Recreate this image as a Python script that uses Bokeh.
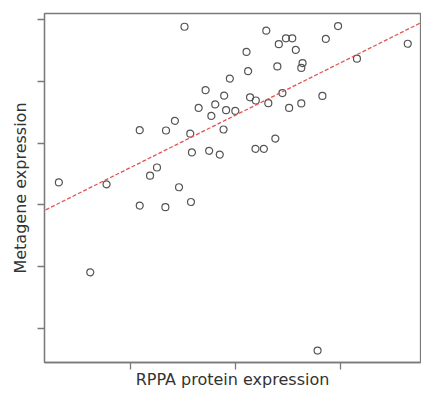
from bokeh.plotting import figure
from bokeh.models import FixedTicker, Slope, Range1d, ColumnDataSource
from bokeh.embed import file_html
from bokeh.resources import INLINE

# RPPA protein expression (x) and metagene expression (y)
rppa = [1.511, 1.712, 1.646, 1.420, 1.085, 1.335, 1.566, 1.582, 1.746, 1.249,
        1.183, 0.315, 0.769, 1.459, 1.085, 1.329, 1.573, 0.614, 2.290, 2.973,
        2.477, 2.537, 2.409, 2.857, 3.637, 2.102, 2.571, 3.153, 2.635, 2.623,
        2.395, 2.117, 1.943, 1.889, 2.135, 2.190, 2.443, 2.824, 1.804, 1.907,
        1.995, 2.309, 2.507, 2.623, 1.767, 1.883, 2.376, 2.187, 2.267, 1.847,
        2.778]
metagene = [4.880, 3.855, 3.567, 3.359, 3.208, 3.203, 3.152, 2.848, 2.875, 2.605,
            2.473, 2.364, 2.333, 2.286, 1.989, 1.964, 2.047, 0.911, 4.817, 4.891,
            4.692, 4.692, 4.598, 4.683, 4.605, 4.473, 4.505, 4.364, 4.292, 4.214,
            4.239, 4.161, 4.042, 3.766, 3.739, 3.688, 3.808, 3.761, 3.625, 3.531,
            3.520, 3.645, 3.567, 3.641, 3.438, 3.219, 3.073, 2.906, 2.906, 2.813,
            -0.355]

# Fitted regression line
fit_slope = 0.8467
fit_intercept = 1.760

x_ticks = [1, 2, 3]
y_ticks = [0, 1, 2, 3, 4, 5]

x_label = "RPPA protein expression"
y_label = "Metagene expression"

p = figure(width=421, height=391, output_backend="svg", toolbar_location=None,
           x_range=Range1d(0.178, 3.758), y_range=Range1d(-0.547, 5.094),
           min_border_left=44, min_border_top=13, min_border_right=1,
           min_border_bottom=24)

p.grid.visible = False
p.background_fill_color = "white"
p.border_fill_color = "white"
p.outline_line_color = "#7a7a7a"
p.outline_line_width = 1.3

for ax, ticks, lab in ((p.xaxis, x_ticks, x_label), (p.yaxis, y_ticks, y_label)):
    ax.ticker = FixedTicker(ticks=ticks)
    ax.major_label_overrides = {t: "" for t in ticks}
    ax.axis_label = lab
    ax.axis_label_text_font = "DejaVu Sans"
    ax.axis_label_text_font_size = "16px"
    ax.axis_label_text_font_style = "normal"
    ax.axis_label_text_color = "#333333"
    ax.major_label_text_font_size = "0px"
    ax.major_label_standoff = 0
    ax.major_tick_out = 7
    ax.major_tick_in = 0
    ax.minor_tick_out = 0
    ax.minor_tick_in = 0
    ax.axis_line_color = "#7a7a7a"
    ax.axis_line_width = 1.3
    ax.major_tick_line_color = "#7a7a7a"
    ax.major_tick_line_width = 1.3

p.xaxis.axis_label_standoff = 0
p.yaxis.axis_label_standoff = 8

src = ColumnDataSource(dict(x=rppa, y=metagene))
p.scatter("x", "y", source=src, marker="circle", size=7, fill_color=None,
          line_color="#555555", line_width=1.2)

p.add_layout(Slope(gradient=fit_slope, y_intercept=fit_intercept,
                   line_color="#e05555", line_dash="4 2", line_width=1.3))

open("out.html", "w").write(file_html(p, INLINE))
